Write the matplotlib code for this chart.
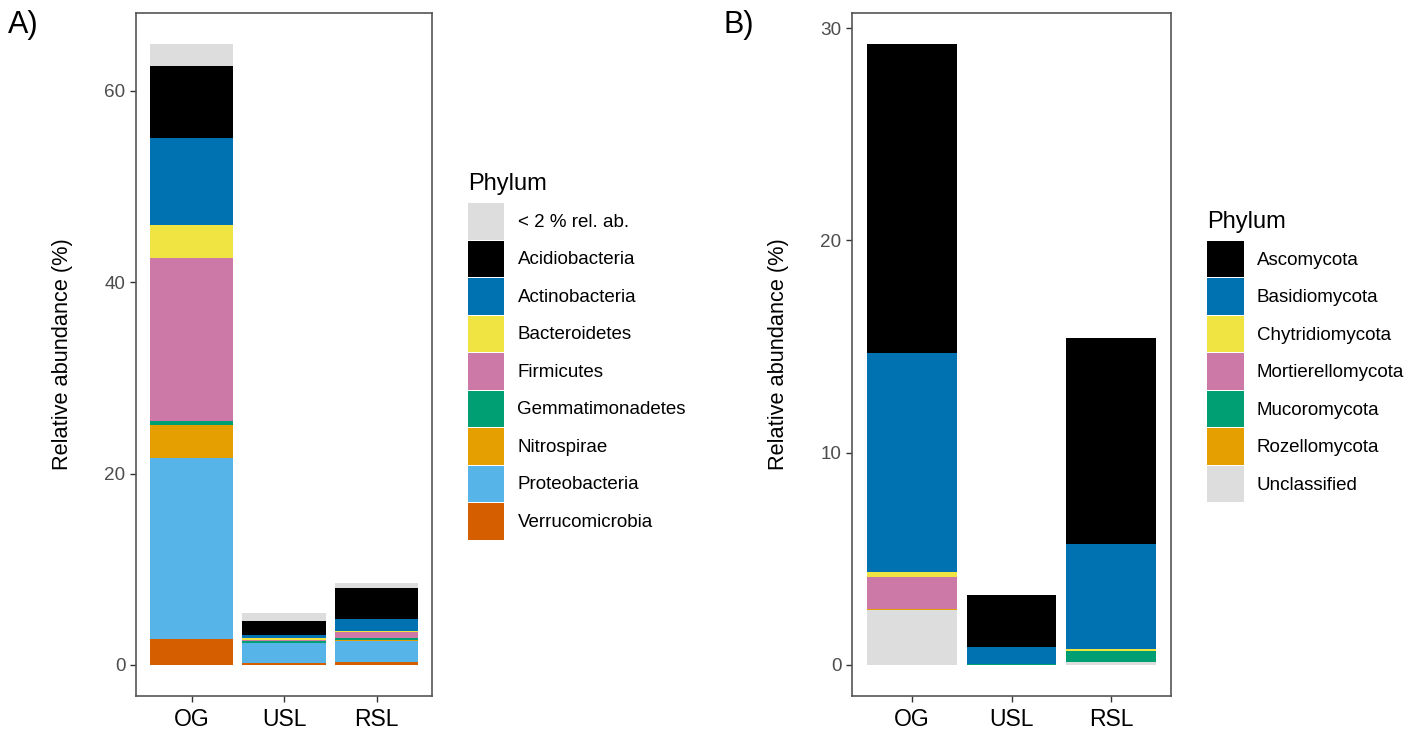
import numpy as np
import matplotlib
matplotlib.use('Agg')
import matplotlib.pyplot as plt
from matplotlib.patches import Patch

plt.rcParams['font.family'] = ['Liberation Sans', 'DejaVu Sans']

sites = ['OG', 'USL', 'RSL']

# Panel A - bacteria, relative abundance (%) per site (OG, USL, RSL)
bac_labels = ['< 2 % rel. ab.', 'Acidiobacteria', 'Actinobacteria', 'Bacteroidetes',
              'Firmicutes', 'Gemmatimonadetes', 'Nitrospirae', 'Proteobacteria',
              'Verrucomicrobia']
bac_colors = ['#DDDDDD', '#000000', '#0072B2', '#F0E442', '#CC79A7',
              '#009E73', '#E69F00', '#56B4E9', '#D55E00']
rare = [2.3, 0.8, 0.5]
acidobacteria = [7.5, 1.5, 3.2]
actinobacteria = [9.1, 0.25, 1.33]
bacteroidetes = [3.5, 0.25, 0.1]
firmicutes = [17.0, 0.15, 0.55]
gemmatimonadetes = [0.45, 0.15, 0.27]
nitrospirae = [3.45, 0.05, 0.05]
proteobacteria = [18.9, 2.06, 2.23]
verrucomicrobia = [2.7, 0.2, 0.3]
bac_values = [rare, acidobacteria, actinobacteria, bacteroidetes, firmicutes,
              gemmatimonadetes, nitrospirae, proteobacteria, verrucomicrobia]

# Panel B - fungi
fun_labels = ['Ascomycota', 'Basidiomycota', 'Chytridiomycota', 'Mortierellomycota',
              'Mucoromycota', 'Rozellomycota', 'Unclassified']
fun_colors = ['#000000', '#0072B2', '#F0E442', '#CC79A7', '#009E73', '#E69F00', '#DDDDDD']
ascomycota = [14.55, 2.47, 9.72]
basidiomycota = [10.33, 0.78, 4.91]
chytridiomycota = [0.25, 0.0, 0.1]
mortierellomycota = [1.49, 0.0, 0.0]
mucoromycota = [0.0, 0.05, 0.55]
rozellomycota = [0.05, 0.0, 0.0]
unclassified = [2.58, 0.0, 0.12]
fun_values = [ascomycota, basidiomycota, chytridiomycota, mortierellomycota,
              mucoromycota, rozellomycota, unclassified]

W, H = 1422, 733
fig = plt.figure(figsize=(W / 100, H / 100), dpi=100)


def px(x0, y0, x1, y1):
    # pixel box -> figure fraction [left, bottom, width, height]
    return [x0 / W, 1 - y1 / H, (x1 - x0) / W, (y1 - y0) / H]


def stacked(ax, labels, colors, values, yticks):
    x = np.arange(len(sites))
    bottom = np.zeros(len(sites))
    # legend order is top of stack first, so draw reversed
    for lab, col, vals in reversed(list(zip(labels, colors, values))):
        vals = np.array(vals)
        ax.bar(x, vals, bottom=bottom, width=0.9, color=col, linewidth=0, label=lab)
        bottom += vals
    top = bottom.max()
    ax.set_xlim(-0.6, len(sites) - 0.4)
    ax.set_ylim(-0.05 * top, 1.05 * top)
    ax.set_xticks(x)
    ax.set_xticklabels(sites, fontsize=16.5, color='black')
    ax.set_yticks(yticks)
    ax.set_yticklabels([str(t) for t in yticks], fontsize=13.6, color='#4D4D4D')
    ax.tick_params(axis='both', length=4.5, width=1, color='#333333')
    ax.tick_params(axis='y', pad=3)
    ax.tick_params(axis='x', pad=4.5)
    for s in ax.spines.values():
        s.set_color('#555555')
        s.set_linewidth(1.2)
    ax.set_ylabel('Relative abundance (%)', fontsize=15.7, labelpad=23)


def legend(handles_colors, labels, key_left, key_top, title_base):
    fs = 13.5
    fs_px = fs * 100 / 72
    key = 36.5 / fs_px
    # matplotlib shrinks the patch by its descent; solve for the full key height
    hh = (key - 0.245) / 0.65
    handles = [Patch(facecolor=c, edgecolor='none') for c in handles_colors]
    fig.legend(handles, labels, loc='upper left',
               bbox_to_anchor=(key_left / W, 1 - key_top / H),
               frameon=False, borderpad=0, borderaxespad=0, fontsize=fs,
               handlelength=key, handleheight=hh,
               labelspacing=1.0 / fs_px, handletextpad=13 / fs_px)
    fig.text(key_left / W, 1 - title_base / H, 'Phylum', fontsize=17, va='baseline')


axA = fig.add_axes(px(136, 13, 432, 696))
stacked(axA, bac_labels, bac_colors, bac_values, [0, 20, 40, 60])
legend(bac_colors, bac_labels, 468, 203, 190)
fig.text(8 / W, 1 - 33 / H, 'A)', fontsize=22, va='baseline')

axB = fig.add_axes(px(852, 13, 1171, 696))
stacked(axB, fun_labels, fun_colors, fun_values, [0, 10, 20, 30])
legend(fun_colors, fun_labels, 1207, 241, 228)
fig.text(724 / W, 1 - 33 / H, 'B)', fontsize=22, va='baseline')

fig.savefig('out.png', dpi=100)
